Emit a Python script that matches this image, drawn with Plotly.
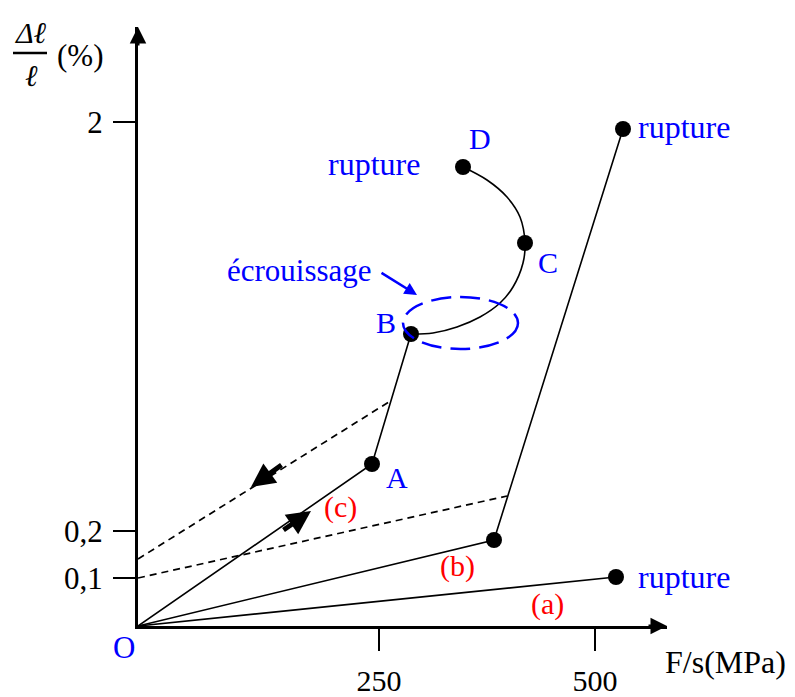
import plotly.graph_objects as go

# ---- schematic diagram coordinates (origin O, arbitrary diagram units) ----
X_TICK_POS = [241, 457]
X_TICK_TEXT = ["250", "500"]
Y_TICK_POS = [48, 95, 504]
Y_TICK_TEXT = ["0,1", "0,2", "2"]
X_END = 529
Y_END = 599

# curve (a): brittle
A_X = [0, 478]
A_Y = [0, 49]
# curve (b)
B_X = [0, 356, 485]
B_Y = [0, 86, 497]
# curve (c): O -> A -> B
C_X = [0, 234, 273]
C_Y = [0, 162, 292]
# hardening arc B -> C -> D
ARC_X = [273, 295, 319, 342, 362, 375, 385, 387, 382, 369, 349, 325]
ARC_Y = [292, 293, 299, 309, 323, 339, 363, 383, 409, 429, 446, 459]
# key points
DOT_X = [478, 356, 485, 234, 273, 387, 325]
DOT_Y = [49, 86, 497, 162, 292, 383, 459]
# dashed unloading lines
DASH1_X = [0, 369]
DASH1_Y = [48, 130]
DASH2_X = [0, 254]
DASH2_Y = [67, 226]
# hardening ellipse (center, radii)
ELL_C = (322.5, 303)
ELL_R = (57.5, 26)

FONT = "Liberation Serif"
BLUE = "#0000ff"
RED = "#ff0000"

fig = go.Figure()

def line(x, y, dash=None, shape="linear", width=1.6):
    fig.add_trace(go.Scatter(x=x, y=y, mode="lines", line=dict(color="black", width=width, dash=dash, shape=shape),
                             hoverinfo="skip", showlegend=False, cliponaxis=False))

line(A_X, A_Y)
line(B_X, B_Y)
line(C_X, C_Y)
line(ARC_X, ARC_Y, shape="spline")
line(DASH1_X, DASH1_Y, dash="7px,5px", width=1.7)
line(DASH2_X, DASH2_Y, dash="7px,5px", width=1.7)

fig.add_trace(go.Scatter(x=DOT_X, y=DOT_Y, mode="markers", marker=dict(color="black", size=16),
                         hoverinfo="skip", showlegend=False, cliponaxis=False))

fig.add_shape(type="circle", xref="x", yref="y",
              x0=ELL_C[0] - ELL_R[0], x1=ELL_C[0] + ELL_R[0],
              y0=ELL_C[1] - ELL_R[1], y1=ELL_C[1] + ELL_R[1],
              line=dict(color=BLUE, width=2.5, dash="20px,9px"))

def arrow(x, y, ax, ay, color="black", width=2, size=1.0, head=2):
    fig.add_annotation(x=x, y=y, ax=ax, ay=ay, xref="x", yref="y", axref="x", ayref="y",
                       showarrow=True, arrowhead=head, arrowwidth=width, arrowsize=size,
                       arrowcolor=color, text="", standoff=0)

# axis arrow heads
arrow(X_END, 0, X_END - 20, 0, width=3, size=1.1)
arrow(0, Y_END, 0, Y_END - 20, width=3, size=1.1)
# loading / unloading arrows
arrow(173, 115, 144, 95, width=5, size=0.95, head=2)
arrow(113, 139, 145, 162, width=5, size=0.95, head=2)
# écrouissage arrow
arrow(279, 331, 242, 354, color=BLUE, width=2.5, size=1.0, head=2)

def text(x, y, s, color="black", size=30, xanchor="center", paper=False):
    if paper:
        fig.add_annotation(x=x / X_END, y=y / Y_END, xref="paper", yref="paper", text=s, showarrow=False,
                           xanchor=xanchor, yanchor="middle",
                           font=dict(family=FONT, size=size, color=color))
    else:
        fig.add_annotation(x=x, y=y, xref="x", yref="y", text=s, showarrow=False,
                           xanchor=xanchor, yanchor="middle",
                           font=dict(family=FONT, size=size, color=color))

text(-14, -21, "O", BLUE, 31, paper=True)
text(259, 149, "A", BLUE)
text(248, 304, "B", BLUE)
text(410, 364, "C", BLUE)
text(342, 488, "D", BLUE)
text(236, 462, "rupture", BLUE, 32)
text(498, 499, "rupture", BLUE, 32, xanchor="left")
text(498, 49, "rupture", BLUE, 32, xanchor="left")
text(409, 22, "(a)", RED)
text(319, 60, "(b)", RED)
text(202, 119, "(c)", RED)
text(161, 356, "écrouissage", BLUE, 31)
text(587, -36, "F/s(MPa)", "black", 32, paper=True)

# y-axis label as a fraction
text(-107, 593, "<i>Δℓ</i>", "black", 30, paper=True)
text(-107, 551, "<i>ℓ</i>", "black", 30, paper=True)
text(-58, 571, "(%)", "black", 31, paper=True)
fig.add_shape(type="line", xref="paper", yref="paper", x0=-125 / X_END, x1=-91 / X_END,
              y0=573 / Y_END, y1=573 / Y_END, line=dict(color="black", width=2.5))

fig.update_layout(
    width=795, height=697,
    margin=dict(l=138, r=128, t=27, b=71),
    paper_bgcolor="white", plot_bgcolor="white",
    xaxis=dict(range=[0, X_END], showgrid=False, zeroline=False, showline=True, linecolor="black",
               linewidth=3, ticks="outside", ticklen=22, tickwidth=1.5, tickcolor="black",
               tickvals=X_TICK_POS, ticktext=X_TICK_TEXT, ticklabelstandoff=4, automargin=False,
               tickfont=dict(family=FONT, size=30, color="black"), fixedrange=True),
    yaxis=dict(range=[0, Y_END], showgrid=False, zeroline=False, showline=True, linecolor="black",
               linewidth=3, ticks="outside", ticklen=22, tickwidth=1.5, tickcolor="black",
               tickvals=Y_TICK_POS, ticktext=Y_TICK_TEXT, ticklabelstandoff=4, automargin=False,
               tickfont=dict(family=FONT, size=31, color="black"), fixedrange=True),
    showlegend=False,
)

fig.write_html("out.html", config={"displayModeBar": False},
               post_script="document.body.style.margin='0';document.body.style.overflow='hidden';")
